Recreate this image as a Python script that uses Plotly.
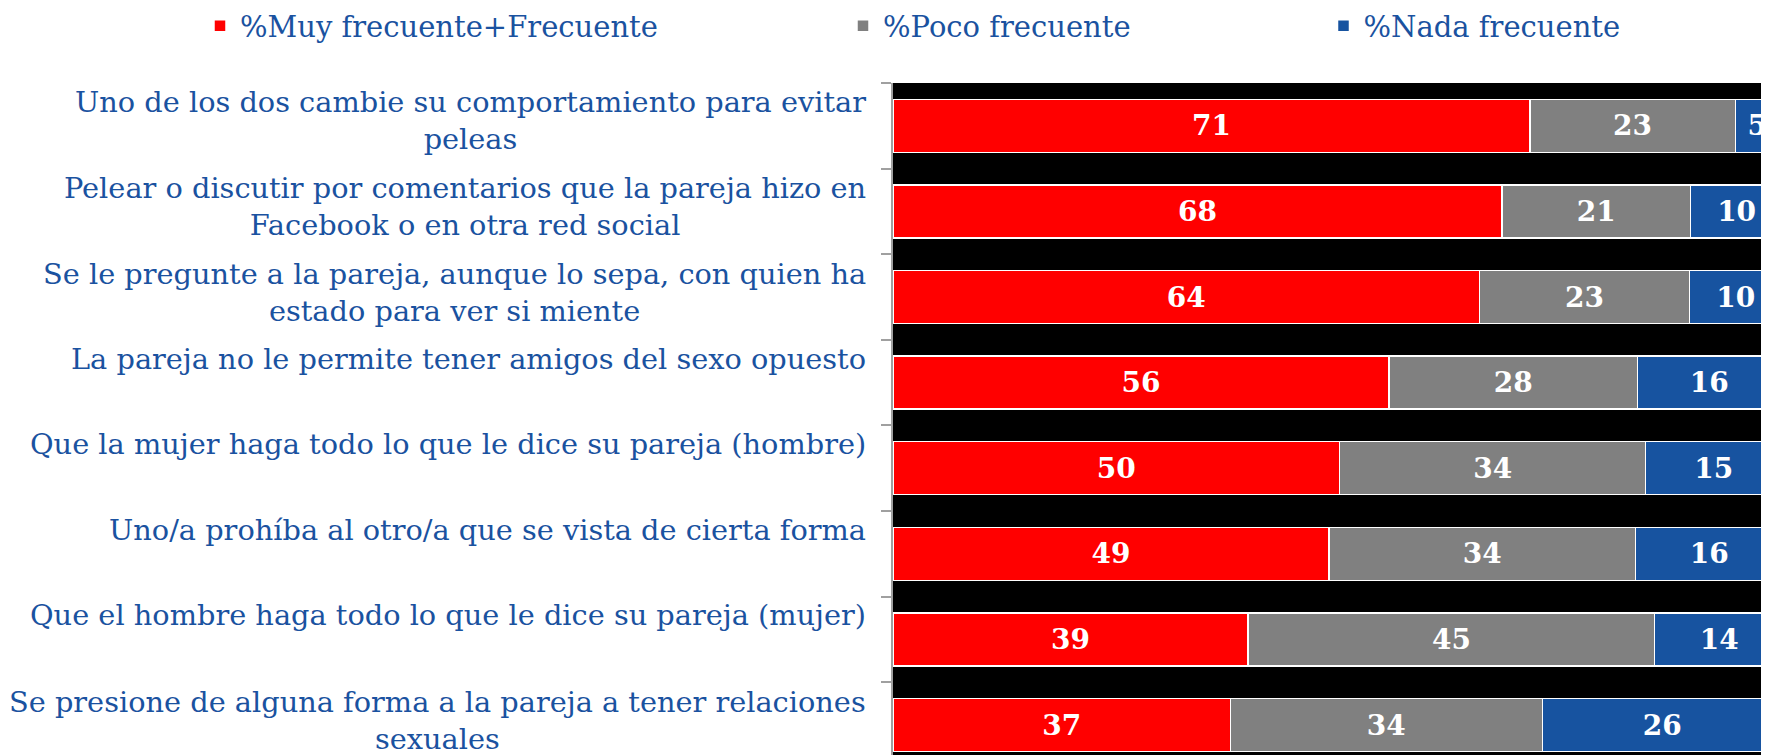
import plotly.graph_objects as go

# ---- data ----
categories = [
    "Uno de los dos cambie su comportamiento para evitar<br>peleas",
    "Pelear o discutir por comentarios que la pareja hizo en<br>Facebook o en otra red social",
    "Se le pregunte a la pareja, aunque lo sepa, con quien ha<br>estado para ver si miente",
    "La pareja no le permite tener amigos del sexo opuesto",
    "Que la mujer haga todo lo que le dice su pareja (hombre)",
    "Uno/a prohíba al otro/a que se vista de cierta forma",
    "Que el hombre haga todo lo que le dice su pareja (mujer)",
    "Se presione de alguna forma a la pareja a tener relaciones<br>sexuales",
]
series_names = ["%Muy frecuente+Frecuente", "%Poco frecuente", "%Nada frecuente"]
# bar lengths as drawn
muy_frecuente = [71.0, 67.9, 65.4, 55.3, 49.8, 48.6, 39.6, 37.6]
poco_frecuente = [22.9, 21.0, 23.4, 27.7, 34.1, 34.2, 45.3, 34.8]
nada_frecuente = [4.9, 10.3, 10.3, 16.0, 15.2, 16.4, 14.4, 26.7]
# printed data labels
muy_labels = [71, 68, 64, 56, 50, 49, 39, 37]
poco_labels = [23, 21, 23, 28, 34, 34, 45, 34]
nada_labels = [5, 10, 10, 16, 15, 16, 14, 26]

colors = ["#FF0000", "#808080", "#1753A0"]
text_blue = "#1A52A0"
# the page body adds an 8px offset; keep the figure inside the visible window
W, H = 1753, 747
L, T = 885, 75
PX_PER_UNIT = 8.97
CAT_PX = 85.6
label_font = "DejaVu Serif"
value_font = "DejaVu Serif"

fig = go.Figure()
for i, (name, vals, labs, col) in enumerate(zip(
        series_names,
        [muy_frecuente, poco_frecuente, nada_frecuente],
        [muy_labels, poco_labels, nada_labels],
        colors)):
    fig.add_trace(go.Bar(
        y=categories, x=vals, orientation="h", name=name,
        marker=dict(color=col, line=dict(color="white", width=1.5)),
        text=[str(v) for v in labs], textposition="inside",
        insidetextanchor="middle", textangle=0,
        constraintext="none",
        textfont=dict(family=value_font, size=28, color="white", weight="bold"),
        legend="legend" if i == 0 else f"legend{i+1}",
        hoverinfo="skip",
    ))

# category labels (centered multi-line text, right-aligned block)
for cat in categories:
    two_lines = "<br>" in cat
    fig.add_annotation(
        x=0, xref="paper", y=cat, yref="y",
        text=cat, showarrow=False, xanchor="right", yanchor="middle",
        align="center", xshift=-25, yshift=5 if two_lines else 24,
        font=dict(family=label_font, size=28.8, color=text_blue),
    )

legend_common = dict(
    orientation="h", xref="container", yref="container", yanchor="middle",
    xanchor="left", y=1 - 18 / H, bgcolor="rgba(0,0,0,0)",
    font=dict(family=label_font, size=29, color=text_blue),
)

fig.update_layout(
    width=W, height=H,
    margin=dict(l=L, r=0, t=T, b=0, autoexpand=False),
    paper_bgcolor="white", plot_bgcolor="black",
    barmode="stack", bargap=0.38,
    showlegend=True,
    legend=dict(**legend_common, x=(212 - 20) / W),
    legend2=dict(**legend_common, x=(855 - 20) / W),
    legend3=dict(**legend_common, x=(1335.5 - 20) / W),
    xaxis=dict(range=[0, (W - L) / PX_PER_UNIT], showticklabels=False,
               showgrid=False, zeroline=False, ticks=""),
    yaxis=dict(range=[-0.5 + (H - T) / CAT_PX, -0.5], showticklabels=False,
               showgrid=False, zeroline=False, showline=True,
               linecolor="#A0A0A0", linewidth=1.5,
               ticks="outside", tickson="boundaries", ticklen=10,
               tickcolor="#A0A0A0", tickwidth=1.5),
)

fig.write_html("out.html")
